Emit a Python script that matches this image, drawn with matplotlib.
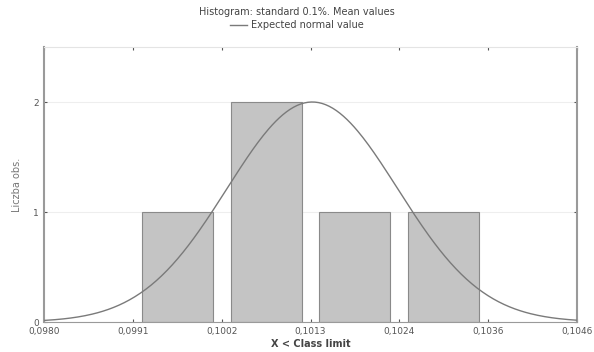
from matplotlib import pyplot as plt
from matplotlib.lines import Line2D
import numpy as np

class_limits = ["0,0980", "0,0991", "0,1002", "0,1013", "0,1024", "0,1036", "0,1046"]
counts = [0, 1, 2, 1, 1, 0]
norm_mean = 3.02   # in class units
norm_sd = 0.96
norm_peak = 2.0

fig = plt.figure(figsize=(5.94, 3.52), dpi=100)
ax = fig.add_axes([44/594, 1 - 322/352, (577-44)/594, (322-47)/352])

edges = np.arange(len(class_limits))
centers = edges[:-1] + 0.5
for c, n in zip(centers, counts):
    if n > 0:
        ax.bar(c, n, width=0.8, color='#c4c4c4', edgecolor='#8a8a8a', lw=0.8, zorder=2)

xs = np.linspace(edges[0], edges[-1], 300)
ys = norm_peak * np.exp(-(xs - norm_mean)**2 / (2 * norm_sd**2))
ax.plot(xs, ys, color='#7a7a7a', lw=1.0, zorder=3)

ax.set_xlim(edges[0], edges[-1])
ax.set_ylim(0, 2.5)
ax.set_xticks(edges)
ax.set_xticklabels(class_limits)
ax.set_yticks([0, 1, 2])
ax.tick_params(labelsize=6.5, colors='#555555', length=2, direction='in', top=True, right=True)
ax.grid(axis='y', color='#eeeeee', lw=0.8, zorder=0)
for s in ax.spines.values():
    s.set_color('#9a9a9a')
ax.spines['left'].set_linewidth(1.5)
ax.spines['right'].set_linewidth(1.5)
ax.spines['top'].set_color('#e4e4e4')

ax.set_xlabel("X < Class limit", fontsize=7, fontweight='bold', color='#444444', labelpad=2)
ax.set_ylabel("Liczba obs.", fontsize=7, color='#777777', labelpad=8)

fig.text(0.5, 1 - 12/352, "Histogram: standard 0.1%. Mean values", ha='center', va='center',
         fontsize=7, color='#444444')
h = Line2D([], [], color='#7a7a7a', lw=1.0)
fig.legend([h], ["Expected normal value"], loc='center', bbox_to_anchor=(0.5, 1 - 25/352),
           frameon=False, fontsize=7, handlelength=1.8, handletextpad=0.4, labelcolor='#444444')

fig.savefig("out.png", dpi=100)
